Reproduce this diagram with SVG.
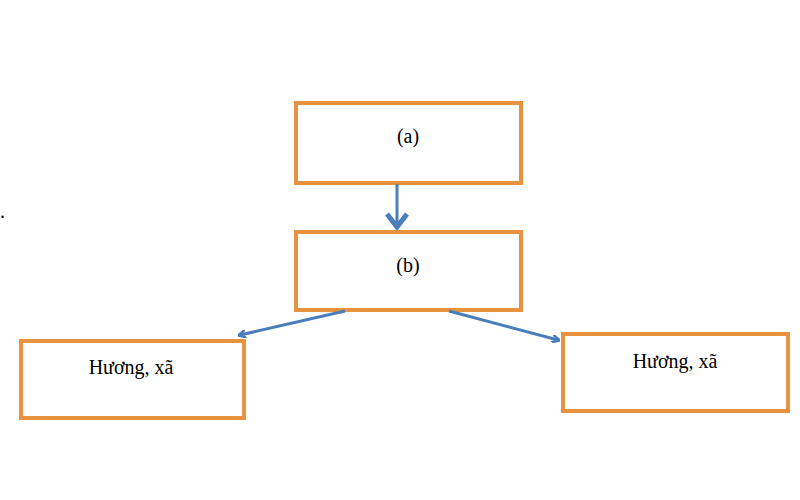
<svg xmlns="http://www.w3.org/2000/svg" width="800" height="500" viewBox="0 0 800 500">
<style>
.box{fill:#fff;stroke:#E8913F;stroke-width:4}
.t{font-family:"Liberation Serif",serif;font-size:20px;fill:#000;text-anchor:middle}
.c{stroke:#4A7EBB;stroke-width:3;fill:none}
</style>
<defs><marker id="ah" markerWidth="8" markerHeight="8" refX="6" refY="4" orient="auto" markerUnits="userSpaceOnUse"><path d="M0,0 L8,4 L0,8" fill="none" stroke="#4A7EBB" stroke-width="2.5"/></marker>
<marker id="ah2" markerWidth="20" markerHeight="24" refX="14" refY="12" orient="auto" markerUnits="userSpaceOnUse"><path d="M2,2 L15,12 L2,22" fill="none" stroke="#4A7EBB" stroke-width="5"/></marker></defs>
<rect width="800" height="500" fill="#fff"/>
<text x="0" y="218" font-family="Liberation Serif,serif" font-size="20">.</text>
<g id="a"><rect class="box" x="296" y="103" width="225" height="80"/><text class="t" x="408" y="143">(a)</text></g>
<g id="b"><rect class="box" x="296" y="232" width="225" height="78"/><text class="t" x="408" y="272">(b)</text></g>
<g id="l"><rect class="box" x="21" y="341" width="223" height="77"/><text class="t" x="131" y="374">Hương, xã</text></g>
<g id="r"><rect class="box" x="563" y="334" width="225" height="77"/><text class="t" x="675" y="368">Hương, xã</text></g>
<g id="connectors">
<path class="c" d="M397,184 L397,226" stroke-width="5" marker-end="url(#ah2)"/>
<path class="c" d="M345,311 L240,335" marker-end="url(#ah)"/>
<path class="c" d="M449,311 L558,340" marker-end="url(#ah)"/>
</g>
</svg>
